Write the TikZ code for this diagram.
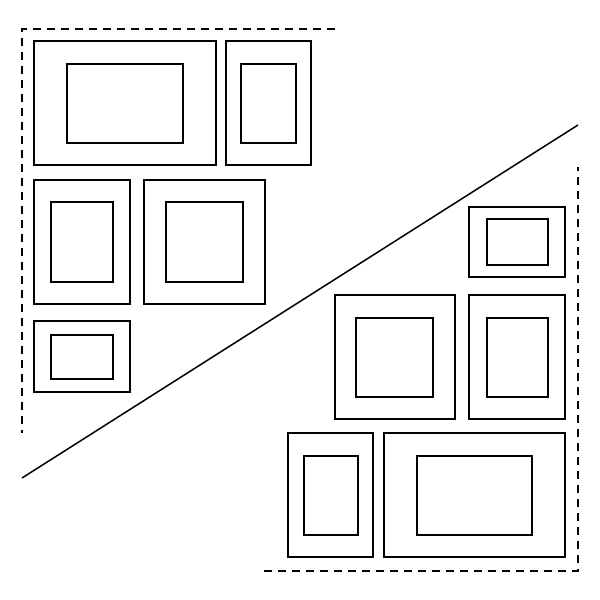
\documentclass[tikz,border=0pt]{standalone}
\begin{document}
\begin{tikzpicture}[x=0.5pt,y=-0.5pt,
  frame/.style={draw=black,line width=0.75pt},
  guide/.style={draw=black,line width=0.6pt,dash pattern=on 4pt off 3pt}]
\useasboundingbox (0,0) rectangle (600,600);
% dashed guides
\draw[guide] (335,29) -- (22,29) -- (22,433);
\draw[guide] (264,571) -- (578,571) -- (578,167);
% diagonal
\draw[frame] (22,478) -- (578,125);
% left frames
\draw[frame] (34,41) rectangle (216,165);
\draw[frame] (67,64) rectangle (183,143);
\draw[frame] (226,41) rectangle (311,165);
\draw[frame] (241,64) rectangle (296,143);
\draw[frame] (34,180) rectangle (130,304);
\draw[frame] (51,202) rectangle (113,282);
\draw[frame] (144,180) rectangle (265,304);
\draw[frame] (166,202) rectangle (243,282);
\draw[frame] (34,321) rectangle (130,392);
\draw[frame] (51,335) rectangle (113,379);
% right frames
\draw[frame] (469,207) rectangle (565,277);
\draw[frame] (487,219) rectangle (548,265);
\draw[frame] (335,295) rectangle (455,419);
\draw[frame] (356,318) rectangle (433,397);
\draw[frame] (469,295) rectangle (565,419);
\draw[frame] (487,318) rectangle (548,397);
\draw[frame] (288,433) rectangle (373,557);
\draw[frame] (304,456) rectangle (358,535);
\draw[frame] (384,433) rectangle (565,557);
\draw[frame] (417,456) rectangle (532,535);
\end{tikzpicture}
\end{document}
